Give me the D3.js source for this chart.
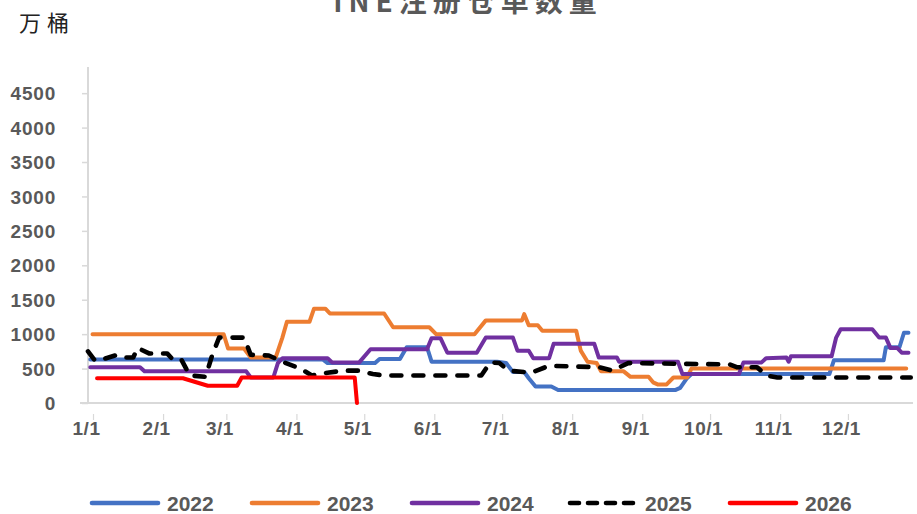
<!DOCTYPE html>
<html><head><meta charset="utf-8">
<script src="https://cdn.jsdelivr.net/npm/d3@7"></script>
<style>body{margin:0;background:#fff}svg{display:block}</style>
</head><body><svg id="c" width="917" height="514"></svg>
<script>
const title = "INE注册仓单数量";
const unitLabel = "万桶";
const monthLabels = ["1/1","2/1","3/1","4/1","5/1","6/1","7/1","8/1","9/1","10/1","11/1","12/1"];
const yTicks = [0,500,1000,1500,2000,2500,3000,3500,4000,4500];
const seriesNames = ["2022","2023","2024","2025","2026"];
const seriesColors = ["#4472C4","#ED7D31","#7030A0","#000000","#FF0000"];

const s2022 = [["01-02",630],["04-15",630],["04-17",580],["05-08",580],["05-10",640],["05-19",640],["05-22",810],["05-31",810],["06-02",600],["07-01",600],["07-05",580],["07-08",450],["07-13",450],["07-15",360],["07-18",240],["07-25",240],["07-28",190],["09-18",190],["09-20",220],["09-23",360],["09-25",420],["11-25",420],["11-27",620],["12-19",620],["12-20",810],["12-26",810],["12-28",1020],["12-30",1020]];
const s2023 = [["01-03",1000],["03-02",1000],["03-04",790],["03-11",790],["03-14",660],["03-25",660],["03-28",950],["03-30",1180],["04-09",1180],["04-11",1370],["04-16",1370],["04-18",1300],["05-12",1300],["05-16",1100],["06-01",1100],["06-04",1000],["06-21",1000],["06-26",1200],["07-12",1200],["07-13",1290],["07-15",1130],["07-19",1130],["07-21",1050],["08-05",1050],["08-07",760],["08-10",600],["08-14",580],["08-16",460],["08-26",460],["08-29",380],["09-06",380],["09-08",300],["09-10",270],["09-14",270],["09-17",370],["09-23",370],["09-25",500],["12-29",500]];
const s2024 = [["01-02",520],["01-24",520],["01-26",460],["03-12",460],["03-14",370],["03-24",370],["03-26",580],["03-28",650],["04-17",650],["04-19",590],["05-01",590],["05-06",780],["05-31",780],["06-02",940],["06-06",940],["06-09",730],["06-22",730],["06-26",950],["07-08",950],["07-10",760],["07-15",760],["07-17",650],["07-24",650],["07-26",860],["08-13",860],["08-15",660],["08-23",660],["08-24",600],["09-19",600],["09-21",420],["10-16",420],["10-18",590],["10-26",590],["10-28",650],["11-06",660],["11-07",600],["11-08",680],["11-26",680],["11-28",950],["11-30",1070],["12-14",1070],["12-17",950],["12-20",950],["12-22",800],["12-25",800],["12-27",730],["12-30",730]];
const s2025 = [["01-01",750],["01-04",620],["01-08",640],["01-13",690],["01-15",660],["01-21",660],["01-23",800],["01-28",720],["02-05",720],["02-07",650],["02-11",650],["02-15",400],["02-22",380],["02-25",700],["02-28",950],["03-11",950],["03-14",700],["03-22",690],["03-28",600],["04-05",500],["04-10",400],["04-17",440],["04-24",470],["05-01",470],["05-07",420],["05-12",400],["06-24",400],["06-28",590],["07-02",580],["07-06",470],["07-16",440],["07-24",540],["08-15",520],["08-21",470],["08-28",580],["10-12",560],["10-15",520],["10-24",520],["10-28",400],["11-02",370],["12-31",370]];
const s2026 = [["01-05",360],["02-12",360],["02-23",250],["03-08",250],["03-10",370],["04-29",370],["04-30",0]];
const allSeries = [s2022,s2023,s2024,s2025,s2026];

const svg = d3.select("#c");
const parse = d3.timeParse("%Y-%m-%d");
const x = d3.scaleTime().domain([parse("2023-01-01"), parse("2024-01-01")]).range([88, 913]);
const y = d3.scaleLinear().domain([0, 4880]).range([403, 67]);
const txt = "#595959";
const fnt = "'Liberation Sans', Arial, sans-serif";

// title (partly cut at top, as in the reference)
svg.append("text").attr("x", 468).attr("y", 12).attr("text-anchor","middle")
  .attr("font-family","'Noto Sans CJK SC', sans-serif").attr("font-weight","bold")
  .attr("font-size",28).attr("letter-spacing",6).attr("fill",txt).text(title);

svg.append("text").attr("x", 19).attr("y", 31)
  .attr("font-family","'Noto Sans CJK SC', serif").attr("font-size",22)
  .attr("letter-spacing",6).attr("fill","#222").text(unitLabel);

// y axis
const yAxis = d3.axisLeft(y).tickValues(yTicks).tickFormat(d3.format("d")).tickSize(6).tickPadding(26);
const gy = svg.append("g").attr("transform","translate(88,0)").call(yAxis);
gy.select(".domain").attr("stroke","#d9d9d9").attr("stroke-width",2).attr("d","M0,67V403");
gy.selectAll(".tick line").attr("stroke","#d9d9d9").attr("stroke-width",1.5);
gy.selectAll(".tick text").attr("font-family",fnt).attr("font-weight","bold")
  .attr("font-size",19).attr("letter-spacing",0.8).attr("fill",txt).attr("dy","0.35em");

// x axis
const monthDates = monthLabels.map((l,i)=>new Date(2023,i,1));
const xAxis = d3.axisBottom(x).tickValues(monthDates).tickFormat((d,i)=>monthLabels[i]).tickSize(0).tickPadding(19);
const gx = svg.append("g").attr("transform","translate(0,403)").call(xAxis);
gx.select(".domain").attr("stroke","#d9d9d9").attr("stroke-width",2).attr("d","M80,0H913");
gx.selectAll(".tick text").attr("font-family",fnt).attr("font-weight","bold")
  .attr("font-size",19).attr("letter-spacing",0.5).attr("fill",txt).attr("dx",-2);
gx.selectAll(".tick").append("line").attr("x1",5).attr("x2",5).attr("y1",11).attr("y2",17)
  .attr("stroke","#d9d9d9").attr("stroke-width",1.2);

// lines
const line = d3.line().x(d=>x(parse("2023-"+d[0]))).y(d=>y(d[1]));
allSeries.forEach((s,i)=>{
  const p = svg.append("path").datum(s).attr("d",line).attr("fill","none")
    .attr("stroke",seriesColors[i]).attr("stroke-width", i===3?4.6:4)
    .attr("stroke-linejoin","round").attr("stroke-linecap","round");
  if (i===3) p.attr("stroke-dasharray","10,12");
});

// legend
const legX = [90, 250, 410, 568, 728];
seriesNames.forEach((n,i)=>{
  const g = svg.append("g").attr("transform",`translate(${legX[i]},503)`);
  const l = g.append("line").attr("x1",2).attr("x2",68).attr("y1",0).attr("y2",0)
    .attr("stroke",seriesColors[i]).attr("stroke-width",4.6).attr("stroke-linecap","round");
  if (i===3) l.attr("stroke-dasharray","9,9");
  g.append("text").attr("x",77).attr("y",8).attr("font-family",fnt).attr("font-weight","bold")
    .attr("font-size",21).attr("fill",txt).text(n);
});
</script></body></html>
